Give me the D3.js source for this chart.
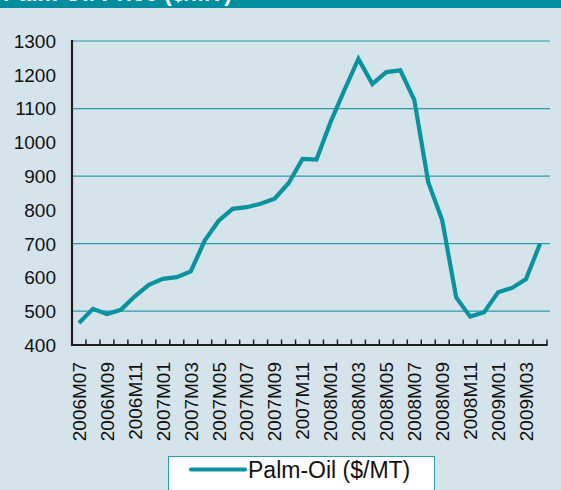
<!DOCTYPE html>
<html>
<head>
<meta charset="utf-8">
<script src="https://cdn.jsdelivr.net/npm/d3@7"></script>
<style>
  html, body { margin: 0; padding: 0; background: #d5e4ea; }
  svg { display: block; }
  text { font-family: "Liberation Sans", Arial, sans-serif; }
</style>
</head>
<body>
<svg id="chart" width="561" height="490"></svg>
<script>
const months = [
  "2006M07","2006M08","2006M09","2006M10","2006M11","2006M12",
  "2007M01","2007M02","2007M03","2007M04","2007M05","2007M06",
  "2007M07","2007M08","2007M09","2007M10","2007M11","2007M12",
  "2008M01","2008M02","2008M03","2008M04","2008M05","2008M06",
  "2008M07","2008M08","2008M09","2008M10","2008M11","2008M12",
  "2009M01","2009M02","2009M03","2009M04"
];
const palmOil = [
  465, 507, 492, 504, 544, 578, 596, 601, 618, 709, 768, 803,
  808, 818, 833, 879, 951, 949, 1059, 1155, 1247, 1173, 1208, 1213,
  1126, 882, 769, 541, 484, 497, 556, 569, 595, 700
];
const yTicks = [400, 500, 600, 700, 800, 900, 1000, 1100, 1200, 1300];
const gridValues = [500, 700, 900, 1100, 1300];
const seriesName = "Palm-Oil ($/MT)";
const titleText = "Palm Oil Price ($/MT)";

const teal = "#0a929f";
const svg = d3.select("#chart");

// background
svg.append("rect").attr("width", 561).attr("height", 490).attr("fill", "#d5e4ea");
// title bar
svg.append("rect").attr("x", 0).attr("y", 0).attr("width", 561).attr("height", 8).attr("fill", "#008e9e");
svg.append("text").attr("x", 3).attr("y", 0.8)
  .attr("fill", "#ffffff").attr("font-weight", "bold").attr("font-size", 23)
  .text(titleText);

const x = d3.scaleBand().domain(months).range([72, 547]).padding(0);
const y = d3.scaleLinear().domain([400, 1300]).range([345, 41]);

// gridlines
svg.append("g").selectAll("line").data(gridValues).join("line")
  .attr("x1", 72).attr("x2", 550)
  .attr("y1", d => y(d)).attr("y2", d => y(d))
  .attr("stroke", "#2a9dab").attr("stroke-width", 1.2);

// y labels
svg.append("g").selectAll("text").data(yTicks).join("text")
  .attr("x", 56).attr("y", d => y(d)).attr("dy", "0.36em")
  .attr("text-anchor", "end").attr("font-size", 19).attr("fill", "#111")
  .text(d => d);

// x axis ticks (band boundaries)
const bounds = months.map(m => x(m)).concat([x.range()[1]]);
svg.append("g").selectAll("line").data(bounds).join("line")
  .attr("x1", d => d).attr("x2", d => d)
  .attr("y1", 339.5).attr("y2", 345)
  .attr("stroke", "#231f20").attr("stroke-width", 1.5);

// axis lines
svg.append("line").attr("x1", 72).attr("x2", 72).attr("y1", 40).attr("y2", 346)
  .attr("stroke", "#231f20").attr("stroke-width", 2.2);
svg.append("line").attr("x1", 71).attr("x2", 547.5).attr("y1", 345).attr("y2", 345)
  .attr("stroke", "#231f20").attr("stroke-width", 2.2);

// x labels
const labelMonths = months.filter((m, i) => i % 2 === 0);
svg.append("g").selectAll("text").data(labelMonths).join("text")
  .attr("transform", d => `translate(${x(d) + x.bandwidth() / 2},362) rotate(-90)`)
  .attr("dy", "0.36em")
  .attr("text-anchor", "end").attr("font-size", 19).attr("fill", "#111")
  .text(d => d);

// line
const line = d3.line()
  .x((d, i) => x(months[i]) + x.bandwidth() / 2)
  .y(d => y(d));
svg.append("path").datum(palmOil)
  .attr("d", line).attr("fill", "none")
  .attr("stroke", teal).attr("stroke-width", 4.2)
  .attr("stroke-linejoin", "miter").attr("stroke-linecap", "butt");

// legend
svg.append("rect").attr("x", 168.5).attr("y", 456.5).attr("width", 266).attr("height", 40)
  .attr("fill", "#ffffff").attr("stroke", "#2a9dab").attr("stroke-width", 1);
svg.append("line").attr("x1", 191).attr("x2", 245).attr("y1", 469.5).attr("y2", 469.5)
  .attr("stroke", teal).attr("stroke-width", 4.2).attr("stroke-linecap", "round");
svg.append("text").attr("x", 248).attr("y", 478).attr("font-size", 23).attr("fill", "#111")
  .text(seriesName);
</script>
</body>
</html>
